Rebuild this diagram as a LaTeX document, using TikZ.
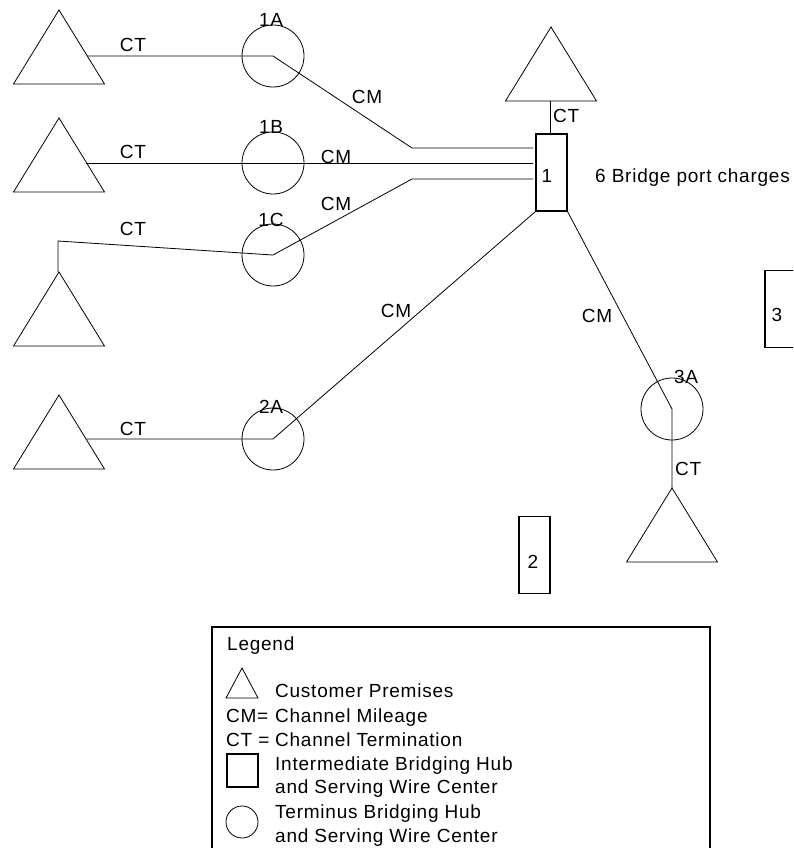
\documentclass[tikz,border=0pt]{standalone}
\usepackage{fontspec}
\setmainfont{Liberation Sans}[LetterSpace=4]
\begin{document}
\begin{tikzpicture}[x=1pt,y=-1pt,
  ln/.style={line width=0.8pt},
  hub/.style={draw, circle, line width=0.8pt, minimum size=62pt, inner sep=0pt},
  ibox/.style={draw, rectangle, line width=1.1pt, minimum width=31pt, minimum height=77pt, inner sep=0pt},
  lbl/.style={inner sep=0pt, font=\fontsize{19}{23}\selectfont},
  prem/.pic={\draw[line width=0.8pt] (0,0) -- (-45.5,74) -- (45.5,74) -- cycle;}]
\useasboundingbox (0,0) rectangle (793,848);
\clip (0,0) rectangle (793,848);

% customer premises (triangles)
\pic at (59,10) {prem};
\pic at (59,118) {prem};
\pic at (59,272) {prem};
\pic at (59,395) {prem};
\pic at (551,27) {prem};
\pic at (672,488) {prem};

% hubs
\node[hub] (c1A) at (273,56) {};
\node[hub] (c1B) at (273,163) {};
\node[hub] (c1C) at (273,255) {};
\node[hub] (c2A) at (273,439) {};
\node[hub] (c3A) at (672,409) {};

\node[ibox] (b1) at (551.5,172.5) {};
\node[ibox] (b2) at (534.5,555) {};
\node[ibox] (b3) at (780.5,309) {};

% connection points
\coordinate (t1) at (87,56);
\coordinate (t2) at (86,163);
\coordinate (t3k) at (58,241);
\coordinate (t3) at (58,272);
\coordinate (t4) at (87,439);
\coordinate (tt) at (550,101);
\coordinate (t5) at (672,488);
\coordinate (k1) at (412,148);
\coordinate (k3) at (412,179);
\coordinate (e1) at (533,148);
\coordinate (e2) at (533,163);
\coordinate (e3) at (533,179);

\draw[ln] (t1) -- (c1A.center) -- (k1) -- (e1);
\draw[ln] (t2) -- (e2);
\draw[ln] (t3) -- (t3k) -- (c1C.center) -- (k3) -- (e3);
\draw[ln] (t4) -- (c2A.center) -- (b1.south west);
\draw[ln] (b1.south east) -- (c3A.center) -- (t5);
\draw[ln] (tt) -- (tt |- b1.north);

% labels
\node[lbl, anchor=base] (ct1) at (133,52) {CT};
\node[lbl, anchor=base] (ct2) at (133,158) {CT};
\node[lbl, anchor=base] (ct3) at (133,235) {CT};
\node[lbl, anchor=base] (ct4) at (133,435) {CT};
\node[lbl, anchor=base west] (ct5) at (553,122) {CT};
\node[lbl, anchor=base west] (ct6) at (675,475) {CT};
\node[lbl, anchor=base] (n1A) at (271,27) {1A};
\node[lbl, anchor=base] (n1B) at (271,133) {1B};
\node[lbl, anchor=base] (n1C) at (271,226) {1C};
\node[lbl, anchor=base] (n2A) at (271,413) {2A};
\node[lbl, anchor=base] (n3A) at (686,383) {3A};
\node[lbl, anchor=base] (cm1) at (367,103) {CM};
\node[lbl, anchor=base] (cm2) at (336,163) {CM};
\node[lbl, anchor=base] (cm3) at (336,210) {CM};
\node[lbl, anchor=base] (cm4) at (396,317) {CM};
\node[lbl, anchor=base] (cm5) at (597,322) {CM};
\node[lbl, anchor=base] (l1) at (547,182) {1};
\node[lbl, anchor=base] (l2) at (533,568) {2};
\node[lbl, anchor=base] (l3) at (777,321) {3};
\node[lbl, anchor=base west] (bpc) at (595,182) {6 Bridge port charges};

% legend
\draw[line width=1.1pt] (212,627) rectangle (710,870);
\node[lbl, anchor=base west] (lg) at (227,650) {Legend};
\draw[ln] (242,668) -- (226,698) -- (258,698) -- cycle;
\node[lbl, anchor=base west] (lg1) at (275,697) {Customer Premises};
\node[lbl, anchor=base west] (lg2) at (226,722) {\makebox[49pt][l]{CM=}Channel Mileage};
\node[lbl, anchor=base west] (lg3) at (226,746) {\makebox[49pt][l]{CT =}Channel Termination};
\draw[line width=1.1pt] (227,754) rectangle (258,787);
\node[lbl, anchor=base west] (lg4) at (275,770) {Intermediate Bridging Hub};
\node[lbl, anchor=base west] (lg5) at (275,793) {and Serving Wire Center};
\draw[ln] (242,822) circle (16);
\node[lbl, anchor=base west] (lg6) at (275,818) {Terminus Bridging Hub};
\node[lbl, anchor=base west] (lg7) at (275,842) {and Serving Wire Center};
\end{tikzpicture}
\end{document}
